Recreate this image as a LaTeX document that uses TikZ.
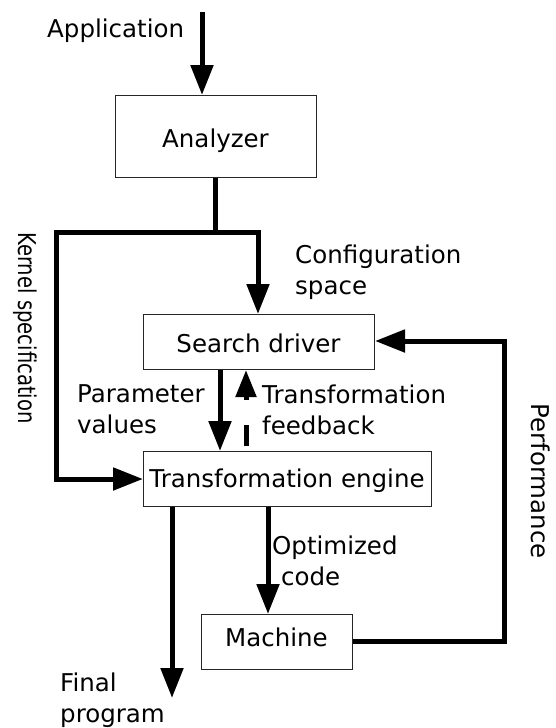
\documentclass[tikz,border=0pt]{standalone}
\usepackage{fontspec}
\setmainfont{DejaVu Sans}
\usetikzlibrary{arrows.meta}
\begin{document}
\begin{tikzpicture}[x=1pt,y=-1pt,
  box/.style={draw=black!85,line width=1pt,inner sep=0pt,anchor=north west},
  txt/.style={font=\fontsize{24.5}{31}\selectfont,inner sep=0pt,anchor=base},
  lbl/.style={font=\fontsize{24.5}{31}\selectfont,align=left,inner sep=0pt,anchor=base west},
  flow/.style={line width=5pt,-{Triangle[length=30pt,width=22pt]}},
  plain/.style={line width=5pt}]
\useasboundingbox (0,0) rectangle (555,728);
\node[box,minimum width=201pt,minimum height=82pt] (an) at (115,95) {};
\node[txt] (ant) at (215.5,147) {Analyzer};
\node[box,minimum width=231pt,minimum height=55pt] (sd) at (143,314) {};
\node[txt] (sdt) at (258.5,352) {Search driver};
\node[box,minimum width=288pt,minimum height=55pt] (te) at (143,451) {};
\node[txt] (tet) at (287,487) {Transformation engine};
\node[box,minimum width=151pt,minimum height=55pt] (ma) at (201,614) {};
\node[txt] (mat) at (276.5,646) {Machine};
\coordinate (app) at (202,12);
\coordinate (fin) at (172,698);
\coordinate (split) at (215,232);
\coordinate (lc1) at (56,232);
\coordinate (lc2) at (56,479);
\coordinate (rc1) at (504,641);
\coordinate (rc2) at (504,341);
\draw[flow] (app) -- (app |- an.north);
\draw[plain] (an.south -| split) -- (split);
\draw[flow] (split) -- (258,232) -- (258,314);
\draw[flow] (split) -- (lc1) -- (lc2) -- (te.west |- lc2);
\draw[flow] (sd.south -| 220,0) -- (te.north -| 220,0);
\draw[line width=5pt,dash pattern=on 21pt off 25pt on 60pt,-{Triangle[length=27pt,width=20pt]}] (te.north -| 246,0) ++(0,-5) -- (sd.south -| 246,0);
\draw[flow] (te.south -| fin) -- (fin);
\draw[flow] (te.south -| 268,0) -- (ma.north -| 268,0);
\draw[flow] (ma.east |- rc1) -- (rc1) -- (rc2) -- (sd.east |- rc2);
\node[lbl] (la) at (47,37) {Application};
\node[lbl] (lb) at (295,294) {Configuration\\space};
\node[lbl] (lc) at (77,433) {Parameter\\values};
\node[lbl] (ld) at (262,434) {Transformation\\feedback};
\node[lbl] (le) at (272,585) {Optimized\\\hspace*{9pt}code};
\node[lbl] (lf) at (60,722) {Final\\program};
\node[font=\fontsize{24.5}{31}\selectfont,inner sep=0pt,rotate=-90] (lk) at (25,328) {\scalebox{0.8}[1]{Kernel specification}};
\node[font=\fontsize{24.5}{31}\selectfont,inner sep=0pt,rotate=-90] (lp) at (541,481) {Performance};
\end{tikzpicture}
\end{document}
